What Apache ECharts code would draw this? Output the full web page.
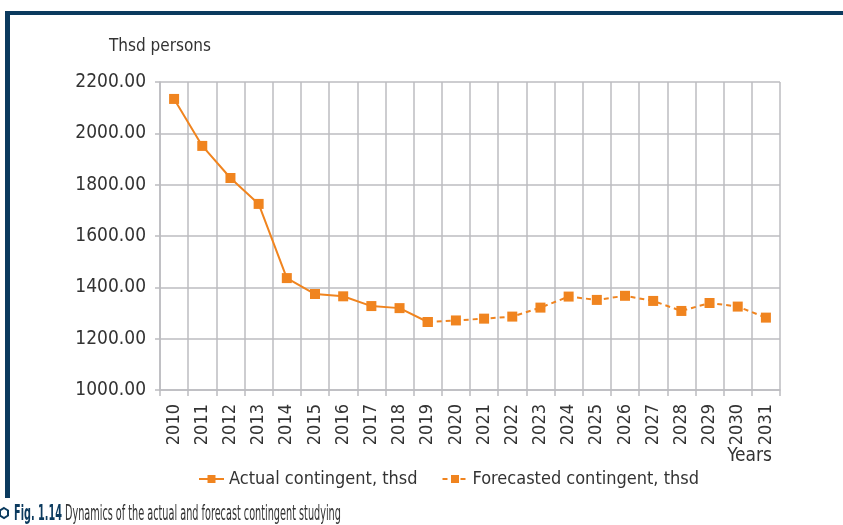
<!DOCTYPE html>
<html>
<head>
<meta charset="utf-8">
<script src="https://cdn.jsdelivr.net/npm/echarts@6/dist/echarts.min.js"></script>
<style>
  html, body { margin: 0; padding: 0; background: #fff; }
  #chart { width: 843px; height: 525px; }
</style>
</head>
<body>
<div id="chart"></div>
<script>
// Data
var years = ['2010', '2011', '2012', '2013', '2014', '2015', '2016', '2017', '2018', '2019', '2020',
  '2021', '2022', '2023', '2024', '2025', '2026', '2027', '2028', '2029', '2030', '2031']
var actual = [2134, 1951, 1826, 1725, 1436, 1374, 1365, 1327, 1319, 1265]
var forecast = [1265, 1271, 1278, 1286, 1321, 1364, 1351, 1367, 1347, 1308, 1339, 1325, 1282]

// pad so both series sit on the same category axis
var actualData = actual.concat(new Array(years.length - actual.length).fill('-'))
var forecastData = new Array(years.length - forecast.length).fill('-').concat(forecast)

var FONT = "'Liberation Sans Narrow', 'DejaVu Sans Condensed', sans-serif"
var orange = '#f0841f'
var navy = '#0b3a5e'
var grey = '#bcbcc0'

var chart = echarts.init(document.getElementById('chart'))

chart.setOption({
  animation: false,
  textStyle: { fontFamily: FONT },
  grid: { left: 160, right: 63, top: 82, bottom: 135 },
  legend: {
    top: 465,
    left: 193,
    itemWidth: 25,
    itemHeight: 10,
    itemGap: 24,
    textStyle: { fontSize: 18, color: '#333', fontFamily: FONT },
    data: ['Actual contingent, thsd', 'Forecasted contingent, thsd']
  },
  xAxis: {
    type: 'category',
    data: years,
    boundaryGap: true,
    axisLine: { lineStyle: { color: grey, width: 1.5 } },
    axisTick: { show: true, interval: 0, length: 6, lineStyle: { color: grey, width: 1.5 } },
    splitLine: { show: true, interval: 0, lineStyle: { color: grey, width: 1.5 } },
    axisLabel: { rotate: 90, interval: 0, margin: 14, fontSize: 18, color: '#333', fontFamily: FONT }
  },
  yAxis: {
    type: 'value',
    min: 1000,
    max: 2200,
    interval: 200,
    name: 'Thsd persons',
    nameLocation: 'end',
    nameGap: 27,
    nameTextStyle: { fontSize: 17, color: '#333', fontFamily: FONT },
    axisLine: { show: true, lineStyle: { color: grey, width: 1.5 } },
    axisTick: { show: true, length: 5, lineStyle: { color: grey, width: 1.5 } },
    splitLine: { show: true, lineStyle: { color: grey, width: 1.5 } },
    axisLabel: {
      margin: 14,
      fontSize: 19,
      color: '#333',
      fontFamily: FONT,
      formatter: function (v) { return v.toFixed(2) }
    }
  },
  series: [{
    name: 'Actual contingent, thsd',
    type: 'line',
    data: actualData,
    symbol: 'rect',
    symbolSize: 10,
    itemStyle: { color: orange },
    lineStyle: { color: orange, width: 2 },
    z: 3
  }, {
    name: 'Forecasted contingent, thsd',
    type: 'line',
    data: forecastData,
    symbol: 'rect',
    symbolSize: 10,
    itemStyle: { color: orange },
    lineStyle: { color: orange, width: 2, type: [5, 4] },
    z: 2
  }],
  graphic: [
    { type: 'rect', shape: { x: 5, y: 11, width: 838, height: 4 }, style: { fill: navy } },
    { type: 'rect', shape: { x: 5, y: 11, width: 5, height: 487 }, style: { fill: navy } },
    {
      type: 'text', right: 71, top: 447,
      style: { text: 'Years', font: '19px ' + FONT, fill: '#333' }
    },
    {
      type: 'polygon',
      shape: { points: [[4, 508], [8, 510.5], [8, 515.5], [4, 518], [0, 515.5], [0, 510.5]] },
      style: { fill: 'none', stroke: navy, lineWidth: 2 }
    },
    {
      type: 'text', x: 14, y: 503, scaleX: 0.49,
      style: {
        text: '{b|Fig. 1.14} Dynamics of the actual and forecast contingent studying',
        font: '22px ' + FONT,
        fill: '#333',
        rich: {
          b: { font: 'bold 22px ' + FONT, fill: navy }
        }
      }
    }
  ]
})
</script>
</body>
</html>
